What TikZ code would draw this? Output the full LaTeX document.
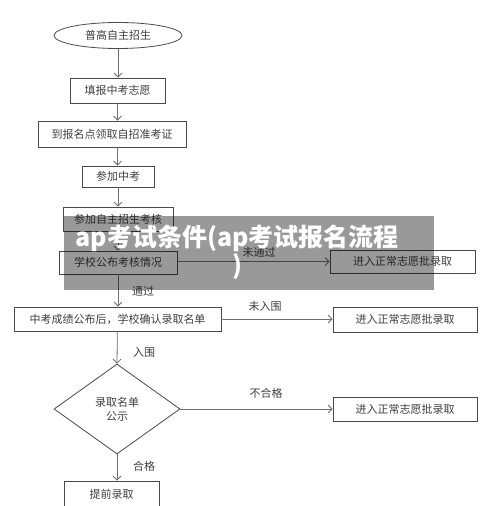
\documentclass[tikz,border=0pt]{standalone}
\usepackage{fontspec}
\newfontfamily\cjk{Noto Sans CJK SC}
\usetikzlibrary{arrows.meta,shapes.geometric}
\definecolor{boxgray}{HTML}{4A4A4A}
\definecolor{linegray}{HTML}{6E6E6E}
\definecolor{txtgray}{HTML}{404040}
\tikzset{
  box/.style={draw=boxgray,line width=0.8pt,inner sep=0pt,minimum height=24pt,
    font=\cjk\fontsize{11}{14}\selectfont,text=txtgray,align=center},
  flow/.style={draw=linegray,line width=0.8pt,-{Straight Barb[length=4pt,width=8pt]}},
  lab/.style={font=\cjk\fontsize{11}{14}\selectfont,text=txtgray}
}
\begin{document}
\begin{tikzpicture}[x=1pt,y=-1pt]
\useasboundingbox (0,0) rectangle (500,506);
\fill[white] (0,0) rectangle (500,506);
% Noeuds
\node[box,ellipse,minimum width=128pt,minimum height=26pt] (start) at (118,35.5) {普高自主招生};
\node[box,minimum width=95pt,minimum height=25pt] (fill) at (117.5,90.5) {填报中考志愿};
\node[box,minimum width=148pt,minimum height=26pt] (ticket) at (112,134) {到报名点领取自招准考证};
\node[box,minimum width=72pt,minimum height=21pt] (exam) at (118,176.5) {参加中考};
\node[box,minimum width=110pt] (selfexam) at (118,219) {参加自主招生考核};
\node[box,minimum width=118pt,minimum height=23pt] (publish) at (118,262.5) {学校公布考核情况};
\node[box,minimum width=145pt,minimum height=23pt] (normA) at (402.5,261.5) {进入正常志愿批录取};
\node[box,minimum width=207pt] (list) at (117.5,319) {中考成绩公布后，学校确认录取名单};
\node[box,minimum width=144pt,minimum height=25pt] (normB) at (405,319.5) {进入正常志愿批录取};
\node[box,diamond,minimum width=126pt,minimum height=90pt] (show) at (117,409) {录取名单\\公示};
\node[box,minimum width=144pt] (normC) at (405,409) {进入正常志愿批录取};
\node[box,minimum width=95pt,minimum height=26pt] (early) at (111.5,494) {提前录取};
% Flèches
\draw[flow] (start) -- (start |- fill.north);
\draw[flow] (fill) -- (fill |- ticket.north);
\draw[flow] (fill.south |- ticket.south) -- (fill.south |- exam.north);
\draw[flow] (exam) -- (exam |- selfexam.north);
\draw[flow] (selfexam) -- (selfexam |- publish.north);
\draw[flow] (publish.east |- normA.west) -- (normA.west);
\draw[flow] (publish) -- (publish |- list.north);
\draw[flow] (list.east) -- (normB.west |- list.east);
\draw[flow] (list) -- (show.north);
\draw[flow] (show.east) -- (normC.west);
\draw[flow] (show.south) -- (show.south |- early.north);
% Étiquettes
\node[lab] (lnopass) at (259,252) {未通过};
\node[lab] (lpass) at (143,291) {通过};
\node[lab] (lout) at (265,306) {未入围};
\node[lab] (lin) at (144,352) {入围};
\node[lab] (lfail) at (266,393) {不合格};
\node[lab] (lok) at (144,466) {合格};
% Bandeau
\fill[black,opacity=0.4] (64,216) rectangle (434,290);
\node[font=\cjk\bfseries\fontsize{25}{28}\selectfont,text=white,align=center] (banner) at (237,252) {ap考试条件(ap考试报名流程\\)};
\end{tikzpicture}
\end{document}
